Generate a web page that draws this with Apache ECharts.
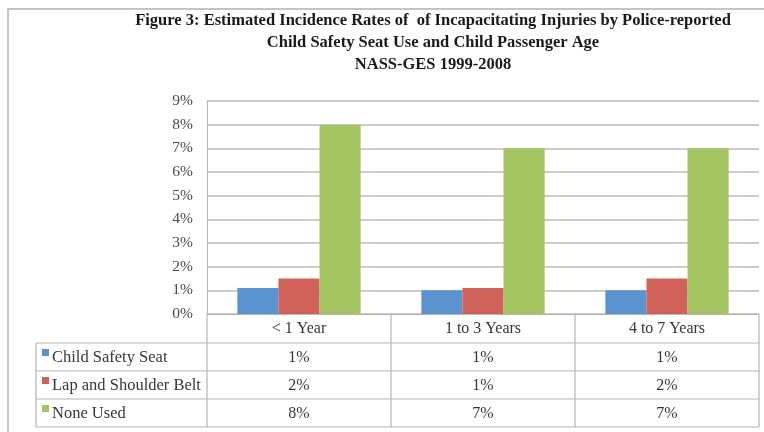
<!DOCTYPE html>
<html>
<head>
<meta charset="utf-8">
<script src="https://cdn.jsdelivr.net/npm/echarts@6/dist/echarts.min.js"></script>
<style>
  html, body { margin: 0; padding: 0; background: #fff; }
  #chart { width: 764px; height: 432px; }
</style>
</head>
<body>
<div id="chart"></div>
<script>
// data (percent)
var categories = ['< 1 Year', '1 to 3 Years', '4 to 7 Years']
var seriesNames = ['Child Safety Seat', 'Lap and Shoulder Belt', 'None Used']
var childSeat = [1.1, 1.0, 1.0]
var lapBelt = [1.5, 1.1, 1.5]
var noneUsed = [8.0, 7.0, 7.0]
var yTicks = [0, 1, 2, 3, 4, 5, 6, 7, 8, 9]

var colors = ['#5A93CF', '#D0625A', '#A5C462']
var serif = '"Liberation Serif", "DejaVu Serif", serif'

// layout
var gridLeft = 207
var gridRight = 5
var gridTop = 101
var zeroY = 314
var tableLeft = 36
var catRowH = 29
var rowH = 28
var lineColor = '#b4b4b4'
var textColor = '#383838'

var myChart = echarts.init(document.getElementById('chart'))

let option = {
  animation: false,
  title: {
    text: 'Figure 3: Estimated Incidence Rates of  of Incapacitating Injuries by Police-reported\nChild Safety Seat Use and Child Passenger Age\nNASS-GES 1999-2008',
    left: 428,
    top: 5,
    textAlign: 'center',
    textStyle: {
      fontFamily: serif,
      fontWeight: 'bold',
      fontSize: 16.5,
      lineHeight: 22,
      color: '#1a1a1a'
    }
  },
  grid: {
    left: gridLeft,
    right: gridRight,
    top: gridTop,
    bottom: 432 - zeroY
  },
  xAxis: {
    type: 'category',
    data: categories,
    axisLine: { show: true, lineStyle: { color: lineColor, width: 1 } },
    axisTick: { show: false },
    axisLabel: {
      margin: 7,
      fontFamily: serif,
      fontSize: 16,
      color: textColor
    }
  },
  yAxis: {
    type: 'value',
    min: yTicks[0],
    max: yTicks[yTicks.length - 1],
    interval: 1,
    axisLine: { show: true, lineStyle: { color: lineColor, width: 1 } },
    axisTick: { show: false },
    axisLabel: {
      formatter: '{value}%',
      margin: 14,
      fontFamily: serif,
      fontSize: 15.5,
      color: '#4a4a4a'
    },
    splitLine: { lineStyle: { color: '#bdbdbd', width: 1.5 } }
  },
  series: [
    { name: seriesNames[0], type: 'bar', data: childSeat, barGap: '0%', barCategoryGap: '33%', itemStyle: { color: colors[0] } },
    { name: seriesNames[1], type: 'bar', data: lapBelt, itemStyle: { color: colors[1] } },
    { name: seriesNames[2], type: 'bar', data: noneUsed, itemStyle: { color: colors[2] } }
  ]
}
myChart.setOption(option)

// data table under the plot
var allSeries = [childSeat, lapBelt, noneUsed]
var tableRight = 764 - gridRight
var colW = (tableRight - gridLeft) / categories.length
var bodyTop = zeroY + catRowH
var tableBottom = bodyTop + rowH * seriesNames.length
var els = []
var ln = function (x1, y1, x2, y2) {
  els.push({ type: 'line', shape: { x1: x1, y1: y1, x2: x2, y2: y2 }, style: { stroke: lineColor, lineWidth: 1.2 }, silent: true })
}
// outer frame
els.push({ type: 'rect', shape: { x: 8, y: 9, width: 800, height: 500 }, style: { fill: null, stroke: '#c4c4c4', lineWidth: 2 }, silent: true })
for (let r = 0; r <= seriesNames.length; r++) {
  ln(tableLeft, bodyTop + r * rowH, tableRight, bodyTop + r * rowH)
}
ln(tableLeft, bodyTop, tableLeft, tableBottom)
for (let c = 0; c <= categories.length; c++) {
  ln(gridLeft + c * colW, zeroY, gridLeft + c * colW, tableBottom)
}
seriesNames.forEach(function (name, r) {
  var cy = bodyTop + r * rowH + rowH / 2
  els.push({ type: 'rect', shape: { x: 42, y: cy - 8, width: 7, height: 7 }, style: { fill: colors[r] }, silent: true })
  els.push({ type: 'text', x: 52, y: cy + 1, style: { text: name, font: '16.5px ' + serif, fill: textColor, verticalAlign: 'middle' }, silent: true })
  allSeries[r].forEach(function (v, c) {
    var cx = myChart.convertToPixel({ xAxisIndex: 0 }, c)
    els.push({ type: 'text', x: cx, y: cy + 1, style: { text: Math.round(v) + '%', font: '16px ' + serif, fill: textColor, align: 'center', verticalAlign: 'middle' }, silent: true })
  })
})
myChart.setOption({ graphic: els })
</script>
</body>
</html>
